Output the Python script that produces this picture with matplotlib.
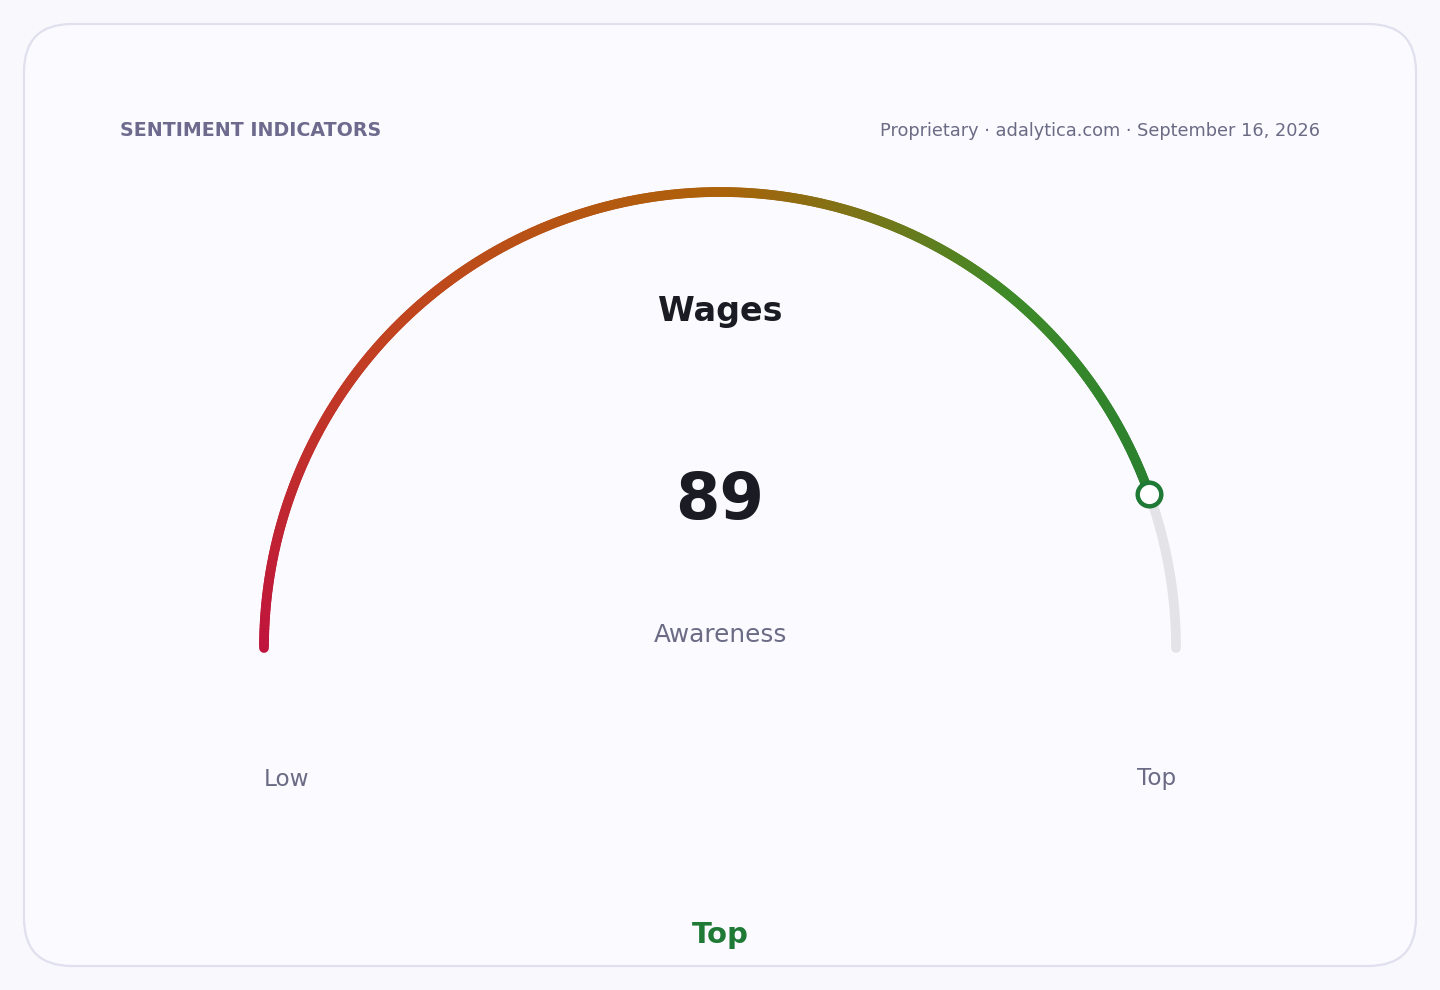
import numpy as np
import matplotlib.pyplot as plt
from matplotlib.collections import LineCollection
from matplotlib.colors import LinearSegmentedColormap
from matplotlib.patches import FancyBboxPatch

plt.rcParams['font.family'] = ['DejaVu Sans']

# --- data ---
title = "Wages"
value = 89
value_min, value_max = 0, 100
metric_label = "Awareness"
range_labels = ["Low", "Top"]
band_label = "Top"
header_left = "SENTIMENT INDICATORS"
header_right = "Proprietary \u00b7 adalytica.com \u00b7 September 16, 2026"

# --- style ---
bg = "#f8f8fd"
card_face = "#fafaff"
card_edge = "#e0e0ee"
muted = "#6b6b85"
dark = "#1b1b24"
green = "#1f7a36"
track = "#e4e4e8"

grad = LinearSegmentedColormap.from_list(
    "gauge", [(0.0, "#c0143c"), (0.25, "#c1441f"), (0.5, "#ad620a"),
              (0.72, "#3e8a28"), (1.0, "#1d7a34")])

fig = plt.figure(figsize=(14.4, 9.9), dpi=100, facecolor=bg)
ax = fig.add_axes([0, 0, 1, 1])
ax.set_xlim(0, 1440)
ax.set_ylim(990, 0)
ax.axis("off")

card = FancyBboxPatch((24, 24), 1392, 942, boxstyle="round,pad=0,rounding_size=48",
                      facecolor=card_face, edgecolor=card_edge, linewidth=1.6)
ax.add_patch(card)

# gauge geometry (pixels)
cx, cy, r = 720, 648, 456
lw = 7.0


def angle_of(v):
    return np.pi * (1 - (v - value_min) / (value_max - value_min))


# background track
t = np.linspace(angle_of(value), angle_of(value_max), 100)
ax.plot(cx + r * np.cos(t), cy - r * np.sin(t), color=track, lw=lw,
        solid_capstyle="round", zorder=2)

# gradient fill
vals = np.linspace(value_min, value, 400)
th = angle_of(vals)
xs, ys = cx + r * np.cos(th), cy - r * np.sin(th)
pts = np.column_stack([xs, ys]).reshape(-1, 1, 2)
segs = np.concatenate([pts[:-1], pts[1:]], axis=1)
lc = LineCollection(segs, colors=grad(vals[:-1] / value_max), linewidths=lw,
                    capstyle="round", zorder=3)
ax.add_collection(lc)

# value marker
tv = angle_of(value)
ax.plot(cx + r * np.cos(tv), cy - r * np.sin(tv), "o", ms=17, mfc="white",
        mec=green, mew=3.2, zorder=4)

# texts
ax.text(120, 131, header_left, fontsize=13.7, fontweight="bold", color="#6e6a8e",
        ha="left", va="center")
ax.text(1320, 131, header_right, fontsize=12.8, color=muted, ha="right", va="center")
ax.text(720, 312, title, fontsize=24, fontweight="bold", color=dark,
        ha="center", va="center")
ax.text(720, 501, str(value), fontsize=46, fontweight="bold", color=dark,
        ha="center", va="center")
ax.text(720, 635, metric_label, fontsize=17.8, color=muted, ha="center", va="center")
ax.text(cx - r, 779, range_labels[0], fontsize=16.7, color=muted, ha="left", va="center")
ax.text(cx + r, 779, range_labels[1], fontsize=16.7, color=muted, ha="right", va="center")
ax.text(720, 935, band_label, fontsize=21, fontweight="bold", color=green,
        ha="center", va="center")

fig.savefig("out.png", dpi=100, facecolor=bg)
